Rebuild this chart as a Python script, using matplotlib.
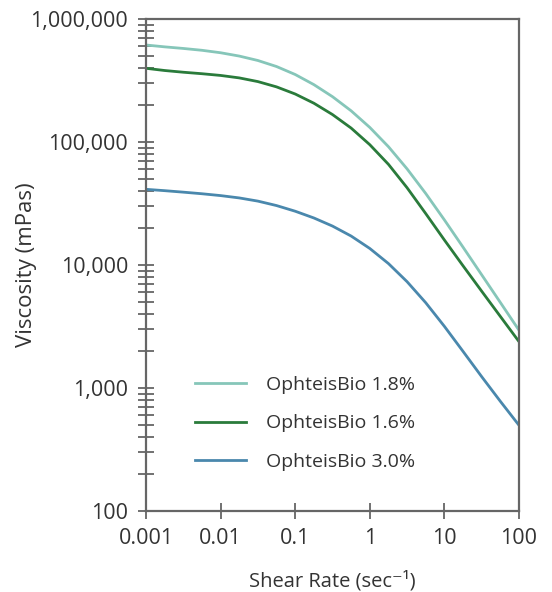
import matplotlib
matplotlib.use("Agg")
import matplotlib.pyplot as plt
from matplotlib.ticker import FixedLocator, LogLocator, NullFormatter, NullLocator

plt.rcParams['font.family'] = ['Open Sans', 'DejaVu Sans']

# shear rate (1/s), quarter-decade steps
shear = [0.001, 0.00178, 0.00316, 0.00562, 0.01, 0.0178, 0.0316, 0.0562,
         0.1, 0.178, 0.316, 0.562, 1, 1.78, 3.16, 5.62, 10, 17.8, 31.6, 56.2, 100]
# viscosity (mPas)
visc_18 = [614600, 593700, 576200, 556700, 531700, 499600, 459900, 410800,
           353800, 292700, 233700, 179300, 131400, 91540, 60470, 38150,
           23260, 13950, 8328, 4962, 2949]
visc_16 = [397400, 381300, 369200, 359100, 347700, 332000, 309900, 280700,
           245600, 206700, 167200, 129800, 95100, 65800, 42480, 26190,
           15970, 9845, 6126, 3821, 2384]
visc_30 = [41240, 40210, 39110, 37960, 36670, 35100, 33070, 30430,
           27370, 24120, 20730, 17200, 13630, 10270, 7318, 4937,
           3172, 1983, 1237, 780, 498]

labels = ['OphteisBio 1.8%', 'OphteisBio 1.6%', 'OphteisBio 3.0%']
colors = ['#86c6b9', '#2a7b3b', '#4a88ad']

xticks = [0.001, 0.01, 0.1, 1, 10, 100]
xticklabels = ['0.001', '0.01', '0.1', '1', '10', '100']
yticks = [100, 1000, 10000, 100000, 1000000]
yticklabels = ['100', '1,000', '10,000', '100,000', '1,000,000']

fig = plt.figure(figsize=(5.52, 5.92), dpi=100)
ax = fig.add_axes([0.2645, 0.1368, 0.6757, 0.8311])

for y, lab, c in zip([visc_18, visc_16, visc_30], labels, colors):
    ax.plot(shear, y, color=c, lw=2.0, label=lab)

ax.set_xscale('log')
ax.set_yscale('log')
ax.set_xlim(0.001, 100)
ax.set_ylim(100, 1000000)

ax.xaxis.set_major_locator(FixedLocator(xticks))
ax.set_xticklabels(xticklabels)
ax.xaxis.set_minor_locator(NullLocator())
ax.yaxis.set_major_locator(FixedLocator(yticks))
ax.set_yticklabels(yticklabels)
ax.yaxis.set_minor_locator(LogLocator(base=10, subs=range(2, 10)))
ax.yaxis.set_minor_formatter(NullFormatter())

spine_c = '#666666'
for s in ax.spines.values():
    s.set_color(spine_c)
    s.set_linewidth(1.6)

ax.tick_params(axis='both', which='both', direction='inout', color=spine_c,
               width=1.3, labelsize=15.5, labelcolor='#333333')
ax.tick_params(axis='x', which='major', length=11, pad=6.5)
ax.tick_params(axis='y', which='both', length=11.5, pad=7)

ax.set_xlabel('Shear Rate (sec⁻¹)', fontsize=14.5, color='#333333')
ax.set_ylabel('Viscosity (mPas)', fontsize=16, color='#333333')
ax.xaxis.set_label_coords(0.5, -0.122)
ax.yaxis.set_label_coords(-0.292, 0.5)

ax.legend(loc='upper left', bbox_to_anchor=(0.085, 0.31), frameon=False,
          fontsize=14, handlelength=2.63, handletextpad=1.0, labelspacing=1.05,
          labelcolor='#333333')

fig.savefig('out.png', dpi=100)
